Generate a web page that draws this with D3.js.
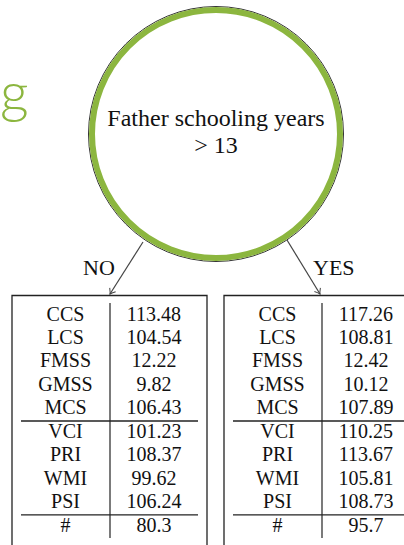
<!DOCTYPE html>
<html><head><meta charset="utf-8">
<script src="https://cdn.jsdelivr.net/npm/d3@7"></script>
<style>html,body{margin:0;padding:0;background:#fff;overflow:hidden}svg{display:block}
text.s{font-family:"Liberation Serif";font-weight:400}</style>
</head><body>
<script>
const metrics = ["CCS","LCS","FMSS","GMSS","MCS","VCI","PRI","WMI","PSI","#"];
const noValues = ["113.48","104.54","12.22","9.82","106.43","101.23","108.37","99.62","106.24","80.3"];
const yesValues = ["117.26","108.81","12.42","10.12","107.89","110.25","113.67","105.81","108.73","95.7"];
const nodeLines = ["Father schooling years", "> 13"];
const branchLabels = ["NO","YES"];
const separatorsAfter = [4, 8];

const W = 404, H = 545;
const svg = d3.select("body").append("svg").attr("width", W).attr("height", H)
  .attr("font-family", "Liberation Serif");
const serif = "Liberation Serif";

// cut-off title fragment
svg.append("text").attr("x", 0).attr("y", 112).text("g")
  .attr("font-family", "Lato").style("font-family", "Lato").style("font-weight", 300)
  .style("font-size", "56px").attr("fill", "#8cb63f");

// decision node
const cx = 216, cy = 134;
svg.append("circle").attr("cx", cx).attr("cy", cy).attr("r", 127.5)
  .attr("fill", "none").attr("stroke", "#333").attr("stroke-width", 1);
svg.append("circle").attr("cx", cx).attr("cy", cy).attr("r", 124)
  .attr("fill", "#fff").attr("stroke", "#8cb63f").attr("stroke-width", 6);
svg.selectAll("text.node").data(nodeLines).join("text").attr("class","node s")
  .attr("x", cx).attr("y", (d,i) => [126,153][i]).attr("text-anchor","middle")
  .attr("font-family", serif).style("font-family", serif).style("font-weight", 400).style("font-size", "24px").attr("fill", "#111").text(d => d);

// arrows
const defs = svg.append("defs");
defs.append("marker").attr("id","ah").attr("viewBox","-6 -5 7 10").attr("refX",0).attr("refY",0)
  .attr("markerWidth",7).attr("markerHeight",10).attr("markerUnits","userSpaceOnUse").attr("orient","auto")
  .append("path").attr("d","M-5,-3.5 Q-1.5,-0.6 0,0 Q-1.5,0.6 -5,3.5").attr("fill","none").attr("stroke","#444").attr("stroke-width",1);
const arrows = [{x1:143,y1:242,x2:110,y2:294},{x1:287,y1:240,x2:320,y2:294}];
svg.selectAll("line.arrow").data(arrows).join("line").attr("class","arrow")
  .attr("x1",d=>d.x1).attr("y1",d=>d.y1).attr("x2",d=>d.x2).attr("y2",d=>d.y2)
  .attr("stroke","#444").attr("stroke-width",1.2).attr("marker-end","url(#ah)");
svg.selectAll("text.branch").data(branchLabels).join("text").attr("class","branch s")
  .attr("x",(d,i)=>[83,313][i]).attr("y",275).attr("font-family", serif).style("font-family",serif).style("font-weight", 400).style("font-size","22px")
  .attr("fill","#111").text(d=>d);

// tables
const y = d3.scaleLinear().domain([0, metrics.length-1]).range([314, 525]);
const boxes = [{x0:12, vals:noValues},{x0:224, vals:yesValues}];
boxes.forEach(b => {
  const g = svg.append("g").attr("transform", `translate(${b.x0},0)`);
  g.append("path").attr("d", `M0,${H+2} V295.5 H195 V${H+2}`).attr("fill","none").attr("stroke","#222").attr("stroke-width",1.3);
  g.append("line").attr("x1",98).attr("x2",98).attr("y1",303).attr("y2",538).attr("stroke","#333").attr("stroke-width",1.3);
  separatorsAfter.forEach(k => {
    const yy = (y(k)+y(k+1))/2 + 1.5;
    g.append("line").attr("x1",9).attr("x2",186).attr("y1",yy).attr("y2",yy).attr("stroke","#222").attr("stroke-width",1.3);
  });
  g.selectAll("text.lab").data(metrics).join("text").attr("class","lab s")
    .attr("x",53.5).attr("y",(d,i)=>y(i)+6.5).attr("text-anchor","middle")
    .attr("font-family", serif).style("font-family",serif).style("font-weight", 400).style("font-size","20px").attr("fill","#111").text(d=>d);
  g.selectAll("text.val").data(b.vals).join("text").attr("class","val s")
    .attr("x",142).attr("y",(d,i)=>y(i)+6.5).attr("text-anchor","middle")
    .attr("font-family", serif).style("font-family",serif).style("font-weight", 400).style("font-size","20px").attr("fill","#111").text(d=>d);
});
</script>
</body></html>
